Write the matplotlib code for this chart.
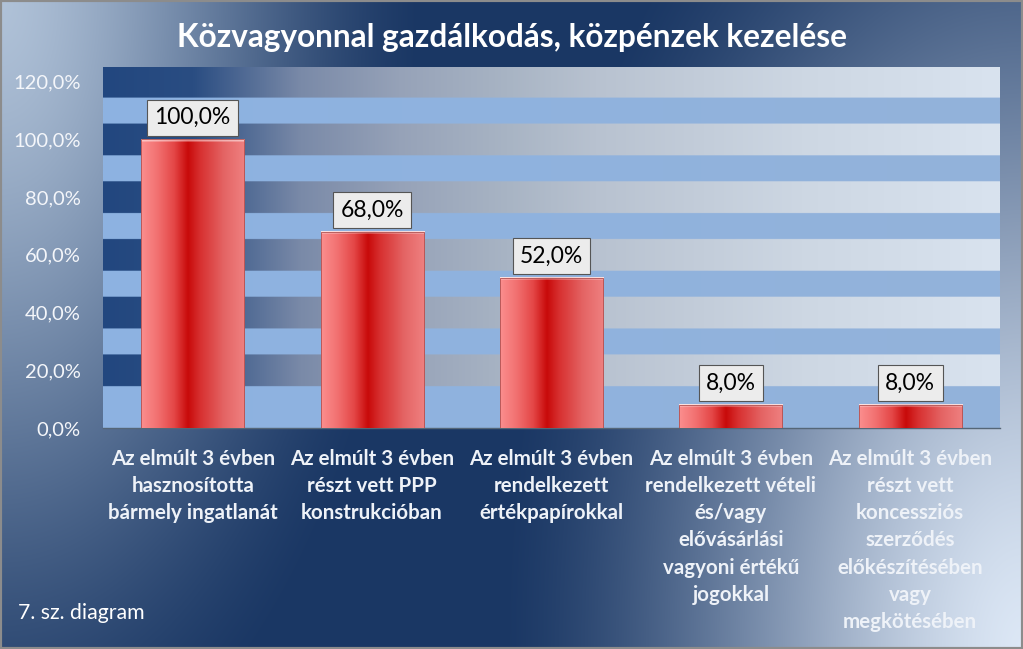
import numpy as np
import matplotlib
matplotlib.use("Agg")
import matplotlib.pyplot as plt
from matplotlib.colors import to_rgb
from matplotlib.patches import Rectangle

# data
categories = [
    "Az elmúlt 3 évben\nhasznosította\nbármely ingatlanát",
    "Az elmúlt 3 évben\nrészt vett PPP\nkonstrukcióban",
    "Az elmúlt 3 évben\nrendelkezett\nértékpapírokkal",
    "Az elmúlt 3 évben\nrendelkezett vételi\nés/vagy\nelővásárlási\nvagyoni értékű\njogokkal",
    "Az elmúlt 3 évben\nrészt vett\nkoncessziós\nszerződés\nelőkészítésében\nvagy\nmegkötésében",
]
values = [100.0, 68.0, 52.0, 8.0, 8.0]
yticks = [0, 20, 40, 60, 80, 100, 120]
title = "Közvagyonnal gazdálkodás, közpénzek kezelése"
note = "7. sz. diagram"

plt.rcParams['font.family'] = ['Lato', 'DejaVu Sans']

W, H = 1023, 649
fig = plt.figure(figsize=(W / 100, H / 100), dpi=100)


def ramp(t, stops):
    # piecewise linear colour ramp
    pos = [s[0] for s in stops]
    cols = np.array([to_rgb(s[1]) for s in stops])
    out = np.zeros(np.shape(t) + (3,))
    for c in range(3):
        out[..., c] = np.interp(t, pos, cols[:, c])
    return out


def smooth(d):
    f = np.clip(1 - d, 0, 1)
    return f * f * (3 - 2 * f) * 0.6 + f * 0.4


# figure background: navy with a light glow in the top-left and bottom-right corners
bg = fig.add_axes([0, 0, 1, 1], zorder=0)
yy, xx = np.mgrid[0:H, 0:W].astype(float)
f_tl = smooth(np.hypot(xx / 420, yy / 820))
f_br = smooth(np.hypot((W - xx) / 520, (H - yy) / 950))
navy = np.array(to_rgb("#1a3764"))
c_tl = np.array(to_rgb("#b0c2d8"))
c_br = np.array(to_rgb("#dde8f6"))
bgimg = navy * (1 - f_tl[..., None]) + c_tl * f_tl[..., None]
bgimg = bgimg * (1 - f_br[..., None]) + c_br * f_br[..., None]
bg.imshow(bgimg, aspect="auto", extent=(0, 1, 0, 1), origin="upper")
bg.set_xlim(0, 1)
bg.set_ylim(0, 1)
bg.axis("off")
fig.patches.append(Rectangle((0, 0), 1, 1, transform=fig.transFigure, fill=False,
                             edgecolor="#8c8c8c", lw=3, zorder=10))

# plot area
ax = fig.add_axes([103 / W, (H - 428) / H, 897 / W, (428 - 67) / H], zorder=1)
ymax = 125.1
ax.set_xlim(-0.5, len(values) - 0.5)
ax.set_ylim(0, ymax)

# striped background of the plot area
ny, nx = 1251, 400
yv = np.linspace(0, ymax, ny)
xv = np.linspace(0, 1, nx)
dark = ramp(xv, [(0.0, "#22477f"), (0.1, "#2a4d82"), (0.22, "#7a8aa8"), (0.33, "#96a2b8"),
                 (0.45, "#a8b4c4"), (0.55, "#b8c2d0"), (0.78, "#cdd7e3"), (1.0, "#d9e3ef")])
light = ramp(xv, [(0.0, "#8db3e2"), (1.0, "#93b2da")])
near = np.round(yv / 20) * 20
is_dark = (np.abs(yv - near) < 5.5) & (near > 0)
img = np.where(is_dark[:, None, None], dark[None, :, :], light[None, :, :])
ax.imshow(img, aspect="auto", extent=(-0.5, len(values) - 0.5, 0, ymax), origin="lower", zorder=0)

# bars with cylinder shading
bars = ax.bar(range(len(values)), values, width=0.575, color="none", zorder=2)
bar_stops = [(0.0, "#fb8e8e"), (0.15, "#f27272"), (0.32, "#e44646"), (0.45, "#c80a0a"),
             (0.58, "#d83232"), (0.8, "#e46464"), (1.0, "#ef8080")]
row = ramp(np.linspace(0, 1, 100), bar_stops)
for b in bars:
    x0, w, h = b.get_x(), b.get_width(), b.get_height()
    n = max(int(h * 2.885), 4)
    bimg = np.repeat(row[None, :, :], n, axis=0)
    k = np.linspace(1, 0, 4)
    for i in range(4):
        bimg[n - 1 - i] = bimg[n - 1 - i] * (1 - 0.75 * k[i]) + 0.75 * k[i]
    ax.imshow(bimg, aspect="auto", extent=(x0, x0 + w, 0, h), origin="lower", zorder=3)
    ax.add_patch(Rectangle((x0, 0), w, h, fill=False, edgecolor="#b05050", lw=0.6, zorder=4))

# data labels
for i, v in enumerate(values):
    ax.annotate(f"{v:.1f}%".replace(".", ","), (i, v), xytext=(0, 8), textcoords="offset points",
                ha="center", va="bottom", fontsize=16.5, color="black", zorder=5,
                bbox=dict(boxstyle="square,pad=0.32", facecolor="#ececec", edgecolor="#555555", lw=0.8))

ax.set_yticks(yticks)
ax.set_yticklabels([f"{v:.1f}%".replace(".", ",") for v in yticks], fontsize=14.5, color="#f4f6fa")
ax.set_xticks(range(len(values)))
ax.set_xticklabels(categories, fontsize=14.8, color="#eef2f8", fontweight="bold", linespacing=1.45)
ax.tick_params(axis="y", length=0, pad=16)
ax.tick_params(axis="x", length=0, pad=15)
for s in ["top", "right", "left"]:
    ax.spines[s].set_visible(False)
ax.spines["bottom"].set_color("#556677")
ax.spines["bottom"].set_linewidth(1)

fig.text(512 / W, 1 - 38 / H, title, ha="center", va="center", fontsize=22.7, fontweight="bold",
         color="white")
fig.text(18 / W, 1 - 613 / H, note, ha="left", va="center", fontsize=15.3, color="white")

fig.savefig("out.png", dpi=100)
